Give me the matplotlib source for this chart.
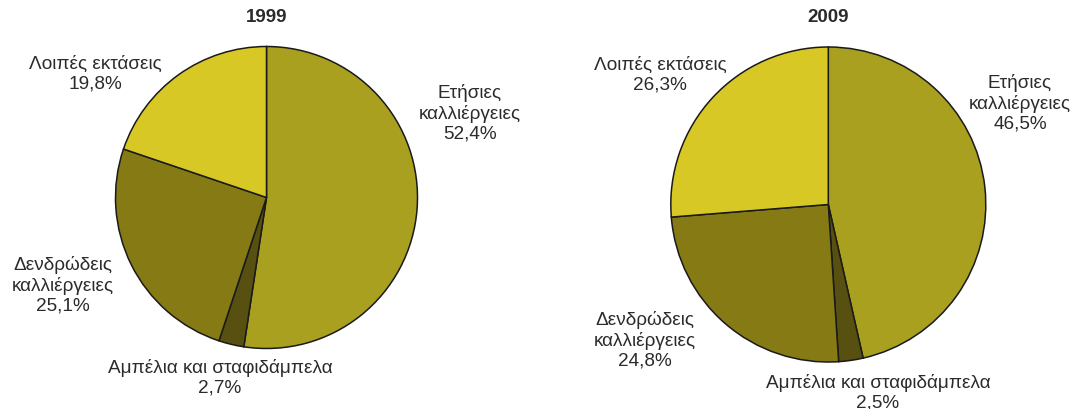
import matplotlib.pyplot as plt

# Κατηγορίες και ποσοστά (%)
categories = ["Ετήσιες καλλιέργειες", "Αμπέλια και σταφιδάμπελα",
              "Δενδρώδεις καλλιέργειες", "Λοιπές εκτάσεις"]
label_lines = ["Ετήσιες\nκαλλιέργειες", "Αμπέλια και σταφιδάμπελα",
               "Δενδρώδεις\nκαλλιέργειες", "Λοιπές εκτάσεις"]
years = ["1999", "2009"]
values_1999 = [52.4, 2.7, 25.1, 19.8]
values_2009 = [46.5, 2.5, 24.8, 26.3]

colors = ["#aaa020", "#575010", "#857a14", "#d8c826"]
text_color = "#2b2b2b"

W, H = 1078, 410
fig = plt.figure(figsize=(W / 100, H / 100), dpi=100)
ax = fig.add_axes([0, 0, 1, 1])
ax.set_xlim(0, W)
ax.set_ylim(0, H)
ax.axis("off")

# θέσεις σε pixel (y από πάνω)
layout = {
    "1999": dict(center=(266.5, 198.5), radius=151, title_x=267,
                 labels=[(470, 113), (220, 378), (63, 285), (95, 74)]),
    "2009": dict(center=(828.3, 205.5), radius=157.5, title_x=828,
                 labels=[(1020, 103), (878, 393), (645, 340), (660, 75)]),
}


def fmt(v):
    return f"{v:.1f}%".replace(".", ",")


for year, vals in zip(years, [values_1999, values_2009]):
    lay = layout[year]
    cx, cy = lay["center"]
    ax.pie(vals, colors=colors, startangle=90, counterclock=False,
           center=(cx, H - cy), radius=lay["radius"],
           wedgeprops=dict(edgecolor="#1a1a1a", linewidth=1.1))
    ax.text(lay["title_x"], H - 18, year, ha="center", va="center",
            fontsize=13.5, fontweight="bold", color=text_color,
            family="Liberation Sans")
    for name, v, (lx, ly) in zip(label_lines, vals, lay["labels"]):
        ax.text(lx, H - ly, f"{name}\n{fmt(v)}", ha="center", va="center",
                fontsize=13.7, color=text_color, linespacing=1.22,
                family="Liberation Sans")

ax.set_xlim(0, W)
ax.set_ylim(0, H)
ax.set_aspect("auto")
fig.savefig("out.png", dpi=100)
